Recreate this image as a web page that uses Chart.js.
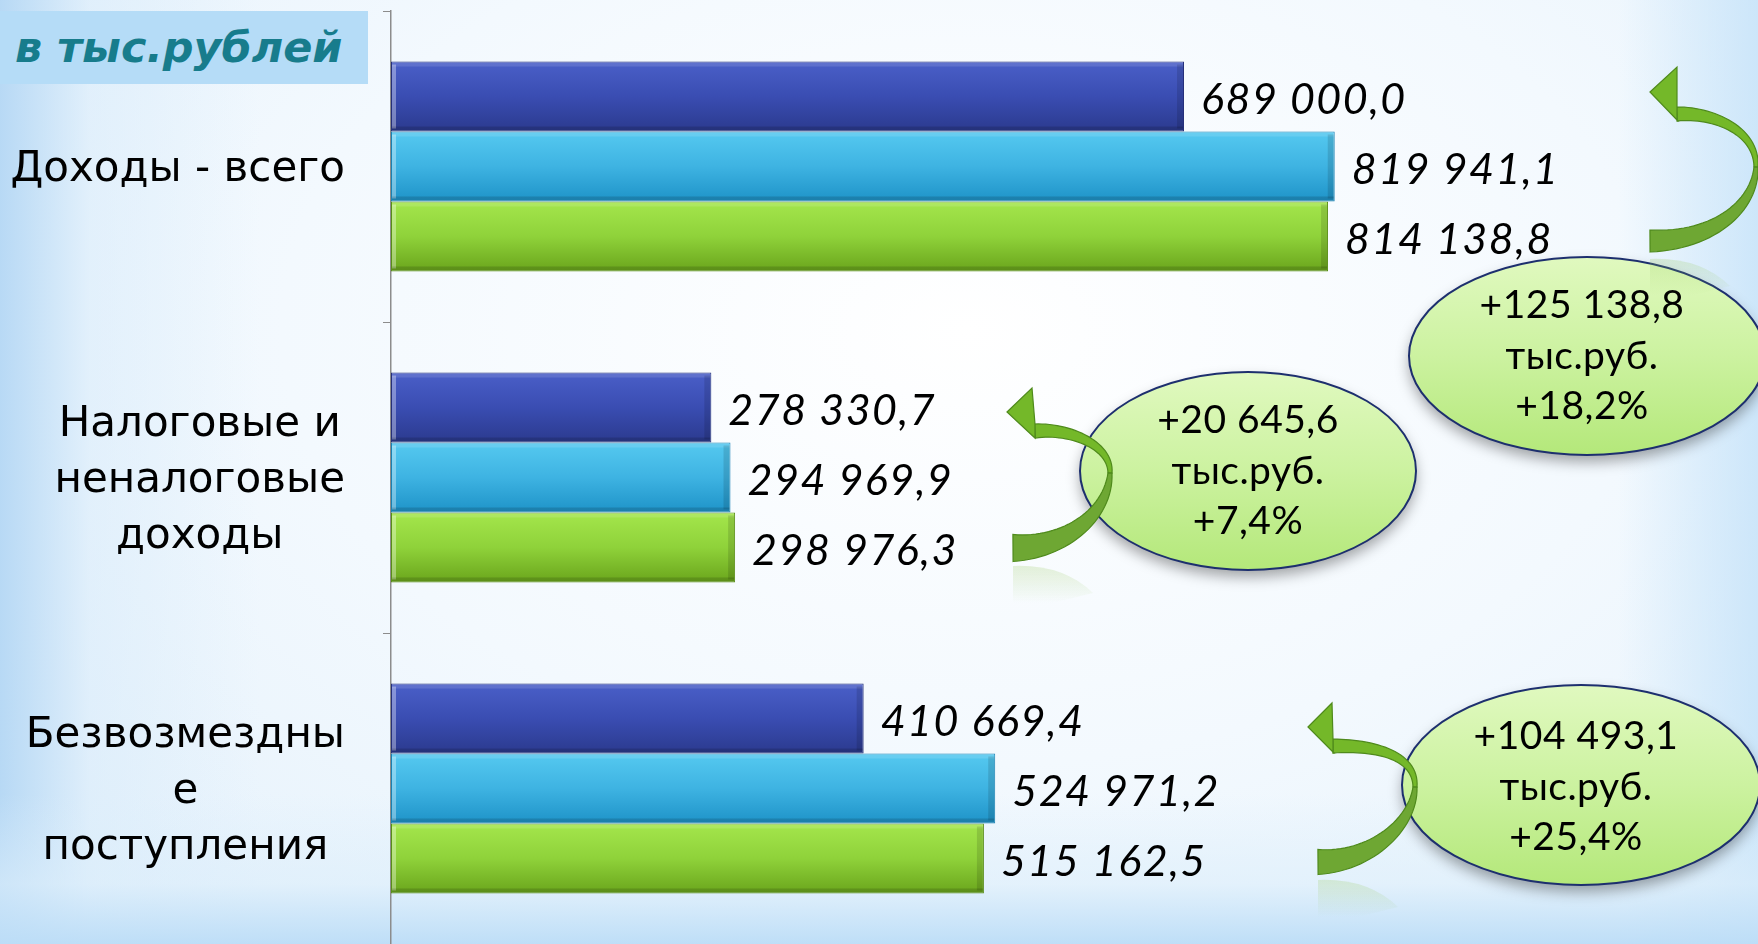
<!DOCTYPE html>
<html lang="ru">
<head>
  <meta charset="UTF-8" />
  <title>Доходы бюджета</title>
  <script src="https://cdn.jsdelivr.net/npm/chart.js"></script>
  <style>
    html, body {
      margin: 0;
      padding: 0;
      width: 1758px;
      height: 944px;
      overflow: hidden;
    }

    body {
      position: relative;
      background:
        linear-gradient(to top, rgba(188, 221, 247, 0.95) 0px, rgba(220, 238, 251, 0.6) 60px, rgba(255, 255, 255, 0) 150px),
        linear-gradient(to right, rgba(178, 214, 244, 0.9) 0px, rgba(214, 234, 250, 0.5) 90px, rgba(255, 255, 255, 0) 260px),
        linear-gradient(to left, rgba(196, 226, 249, 0.8) 0px, rgba(255, 255, 255, 0) 140px),
        radial-gradient(ellipse at 55% 35%, #ffffff 0%, #f3f9fe 50%, #e2f0fb 100%);
    }

    .units {
      position: absolute;
      left: 0;
      top: 11px;
      width: 368px;
      height: 73px;
      background-color: #b5dcf7;
      color: #177c8c;
      font-family: "DejaVu Sans", sans-serif;
      font-weight: bold;
      font-style: italic;
      font-size: 43px;
      line-height: 73px;
      padding-left: 15px;
      box-sizing: border-box;
      white-space: nowrap;
    }

    canvas {
      position: absolute;
      left: 0;
      top: 0;
    }
  </style>
</head>
<body>
  <canvas id="chart" width="1758" height="944"></canvas>
  <div class="units">в тыс.рублей</div>

  <script>
    const categories = [
      'Доходы - всего',
      ['Налоговые и', 'неналоговые', 'доходы'],
      ['Безвозмездны', 'е', 'поступления']
    ];
    const series1 = [689000.0, 278330.7, 410669.4];
    const series2 = [819941.1, 294969.9, 524971.2];
    const series3 = [814138.8, 298976.3, 515162.5];
    const changeAbs = ['+125 138,8', '+20 645,6', '+104 493,1'];
    const changePct = ['+18,2%', '+7,4%', '+25,4%'];
    const changeUnit = 'тыс.руб.';

    const X_MAX = 1187700;
    const CAT_PCT = 0.675;

    // bar colours: [top, middle, bottom, border]
    const palette = [
      ['#4a5fc8', '#3a4db2', '#2b3a8e', '#26307a'],
      ['#55c9f0', '#3eb3e2', '#1e93c8', '#1a82b4'],
      ['#a4e64c', '#8fd23a', '#6aa51c', '#5a8e18']
    ];

    // callout bubbles and curved arrows (decoration, page pixels)
    const bubbles = [
      { cx: 1587, cy: 356, rx: 178, ry: 99, lines: [305, 356, 406] },
      { cx: 1248, cy: 471, rx: 168, ry: 99, lines: [420, 471, 521] },
      { cx: 1581, cy: 785, rx: 179, ry: 100, lines: [736, 787, 837] }
    ];
    const arrows = [
      { T: [1650, 241], wT: 22, A: [1715, 241], B: [1755, 205], R: [1756, 167], wR: 4,
        C: [1757, 130], D: [1712, 112], H: [1677, 114], wH: 14,
        tip: [1650, 92], c1: [1677, 67], c2: [1678, 121] },
      { T: [1013, 548], wT: 27, A: [1065, 548], B: [1108, 515], R: [1110, 473], wR: 4,
        C: [1111, 445], D: [1070, 428], H: [1035, 431], wH: 14,
        tip: [1007, 412], c1: [1032, 388], c2: [1035, 438] },
      { T: [1318, 862], wT: 25, A: [1370, 862], B: [1413, 825], R: [1415, 787], wR: 4,
        C: [1416, 755], D: [1375, 745], H: [1333, 746], wH: 14,
        tip: [1308, 727], c1: [1332, 703], c2: [1334, 753] }
    ];

    function fmt(v) {
      const parts = v.toFixed(1).split('.');
      return parts[0].replace(/\B(?=(\d{3})+(?!\d))/g, ' ') + ',' + parts[1];
    }

    function barFill(di) {
      return (c) => {
        const chart = c.chart;
        const y = chart.scales.y;
        const cols = palette[di];
        if (!y || c.type !== 'data') return cols[1];
        const band = y.height / categories.length;
        const bh = band * CAT_PCT / 3;
        const mid = y.getPixelForValue(c.dataIndex) + (di - 1) * bh;
        if (!isFinite(mid) || !isFinite(bh) || bh <= 0) return cols[1];
        const g = chart.ctx.createLinearGradient(0, mid - bh / 2, 0, mid + bh / 2);
        g.addColorStop(0, cols[0]);
        g.addColorStop(0.5, cols[1]);
        g.addColorStop(1, cols[2]);
        return g;
      };
    }

    // category names: each block ends near the axis, its lines centred inside it
    const categoryLabels = {
      id: 'categoryLabels',
      afterDraw(chart) {
        const ctx = chart.ctx;
        const y = chart.scales.y;
        const lineH = 56;
        ctx.save();
        ctx.font = '42px "DejaVu Sans"';
        ctx.fillStyle = '#000';
        ctx.textAlign = 'center';
        ctx.textBaseline = 'middle';
        chart.data.labels.forEach((lab, i) => {
          const lines = Array.isArray(lab) ? lab : [lab];
          const widest = Math.max(...lines.map(l => ctx.measureText(l).width));
          const cx = y.left + y.width - 46 - widest / 2;
          const cy = y.getPixelForTick(i) + 4;
          lines.forEach((l, k) => {
            ctx.fillText(l, cx, cy + (k - (lines.length - 1) / 2) * lineH);
          });
        });
        ctx.restore();
      }
    };

    const bevelPlugin = {
      id: 'bevel',
      afterDatasetsDraw(chart) {
        const ctx = chart.ctx;
        ctx.save();
        chart.data.datasets.forEach((ds, di) => {
          chart.getDatasetMeta(di).data.forEach(bar => {
            const top = bar.y - bar.height / 2;
            const w = bar.x - bar.base;
            ctx.fillStyle = 'rgba(255,255,255,0.35)';
            ctx.fillRect(bar.base + 1, top + 3, 4, bar.height - 6);
            ctx.fillStyle = 'rgba(255,255,255,0.12)';
            ctx.fillRect(bar.base + 1, top + 1, w - 2, 4);
            ctx.fillStyle = 'rgba(0,0,0,0.14)';
            ctx.fillRect(bar.base + 1, top + bar.height - 5, w - 2, 4);
            ctx.fillStyle = 'rgba(0,0,0,0.12)';
            ctx.fillRect(bar.x - 7, top + 3, 6, bar.height - 6);
          });
        });
        ctx.restore();
      }
    };

    const valueLabels = {
      id: 'valueLabels',
      afterDatasetsDraw(chart) {
        const ctx = chart.ctx;
        ctx.save();
        ctx.font = 'italic 43px Lato';
        ctx.letterSpacing = '1.5px';
        ctx.fillStyle = '#000';
        ctx.textBaseline = 'middle';
        ctx.textAlign = 'left';
        chart.data.datasets.forEach((ds, di) => {
          chart.getDatasetMeta(di).data.forEach((bar, i) => {
            ctx.fillText(fmt(ds.data[i]), bar.x + 17, bar.y + 4);
          });
        });
        ctx.restore();
      }
    };

    function bez(p0, p1, p2, p3, t) {
      const u = 1 - t;
      return [
        u * u * u * p0[0] + 3 * u * u * t * p1[0] + 3 * u * t * t * p2[0] + t * t * t * p3[0],
        u * u * u * p0[1] + 3 * u * u * t * p1[1] + 3 * u * t * t * p2[1] + t * t * t * p3[1]
      ];
    }

    function ribbon(p0, p1, p2, p3, w0, w1) {
      const left = [], right = [];
      const n = 30;
      for (let i = 0; i <= n; i++) {
        const t = i / n;
        const p = bez(p0, p1, p2, p3, t);
        const q = bez(p0, p1, p2, p3, Math.min(1, t + 0.01));
        const r = bez(p0, p1, p2, p3, Math.max(0, t - 0.01));
        let dx = q[0] - r[0], dy = q[1] - r[1];
        const len = Math.hypot(dx, dy) || 1;
        dx /= len; dy /= len;
        const w = (w0 + (w1 - w0) * t) / 2;
        left.push([p[0] - dy * w, p[1] + dx * w]);
        right.push([p[0] + dy * w, p[1] - dx * w]);
      }
      return left.concat(right.reverse());
    }

    function fillPoly(ctx, pts, fill, stroke) {
      ctx.beginPath();
      pts.forEach((p, i) => i ? ctx.lineTo(p[0], p[1]) : ctx.moveTo(p[0], p[1]));
      ctx.closePath();
      ctx.fillStyle = fill;
      ctx.fill();
      ctx.strokeStyle = stroke;
      ctx.lineWidth = 1.2;
      ctx.stroke();
    }

    const calloutPlugin = {
      id: 'callouts',
      afterDraw(chart) {
        const ctx = chart.ctx;
        ctx.save();
        bubbles.forEach((b, i) => {
          ctx.save();
          ctx.shadowColor = 'rgba(0,0,0,0.35)';
          ctx.shadowBlur = 14;
          ctx.shadowOffsetY = 7;
          const g = ctx.createLinearGradient(0, b.cy - b.ry, 0, b.cy + b.ry);
          g.addColorStop(0, '#e0f9bf');
          g.addColorStop(0.5, '#ccf2a0');
          g.addColorStop(1, '#b4e87a');
          ctx.beginPath();
          ctx.ellipse(b.cx, b.cy, b.rx, b.ry, 0, 0, Math.PI * 2);
          ctx.fillStyle = g;
          ctx.fill();
          ctx.restore();
          ctx.beginPath();
          ctx.ellipse(b.cx, b.cy, b.rx, b.ry, 0, 0, Math.PI * 2);
          ctx.strokeStyle = '#1d2f6e';
          ctx.lineWidth = 2;
          ctx.stroke();

          ctx.fillStyle = '#000';
          ctx.font = '39px Lato';
          ctx.letterSpacing = '0.5px';
          ctx.textAlign = 'center';
          ctx.textBaseline = 'middle';
          const tx = b.cx - (i === 1 ? 0 : 5);
          ctx.fillText(changeAbs[i], tx, b.lines[0]);
          ctx.fillText(changeUnit, tx, b.lines[1]);
          ctx.fillText(changePct[i], tx, b.lines[2]);
        });

        arrows.forEach(a => {
          // faint reflection below the tail
          const rg = ctx.createLinearGradient(0, a.T[1] + 15, 0, a.T[1] + 55);
          rg.addColorStop(0, 'rgba(150,200,90,0.25)');
          rg.addColorStop(1, 'rgba(150,200,90,0)');
          ctx.fillStyle = rg;
          ctx.beginPath();
          ctx.moveTo(a.T[0], a.T[1] + 18);
          ctx.quadraticCurveTo(a.T[0] + 50, a.T[1] + 16, a.T[0] + 80, a.T[1] + 45);
          ctx.lineTo(a.T[0] + 40, a.T[1] + 55);
          ctx.lineTo(a.T[0], a.T[1] + 55);
          ctx.closePath();
          ctx.fill();

          fillPoly(ctx, ribbon(a.R, a.C, a.D, a.H, a.wR, a.wH), '#74b829', '#4f8a1c');
          fillPoly(ctx, [a.tip, a.c1, [a.H[0], a.H[1] - a.wH / 2], [a.H[0], a.H[1] + a.wH / 2], a.c2], '#74b829', '#4f8a1c');
          fillPoly(ctx, ribbon(a.T, a.A, a.B, a.R, a.wT, a.wR), '#6ea733', '#4f8a1c');
        });
        ctx.restore();
      }
    };

    new Chart('chart', {
      type: 'bar',
      data: {
        labels: categories,
        datasets: [series1, series2, series3].map((s, di) => ({
          label: 'Ряд ' + (di + 1),
          data: s,
          backgroundColor: barFill(di),
          borderColor: palette[di][3],
          borderWidth: 1,
          borderSkipped: false
        }))
      },
      options: {
        indexAxis: 'y',
        responsive: false,
        animation: false,
        devicePixelRatio: 1,
        layout: { padding: { top: 11, right: 0, bottom: 0, left: 0 } },
        datasets: { bar: { categoryPercentage: CAT_PCT, barPercentage: 1 } },
        plugins: {
          legend: { display: false },
          tooltip: { enabled: false }
        },
        scales: {
          x: { display: false, min: 0, max: X_MAX },
          y: {
            afterFit(scale) {
              scale.width = 391;
              scale.paddingTop = 0;
              scale.paddingBottom = 0;
            },
            grid: { drawOnChartArea: false, drawTicks: true, tickLength: 8, color: '#8c8c8c', offset: true },
            border: { color: '#8c8c8c', width: 1.5 },
            ticks: { display: false }
          }
        }
      },
      plugins: [categoryLabels, bevelPlugin, valueLabels, calloutPlugin]
    });
  </script>
</body>
</html>
